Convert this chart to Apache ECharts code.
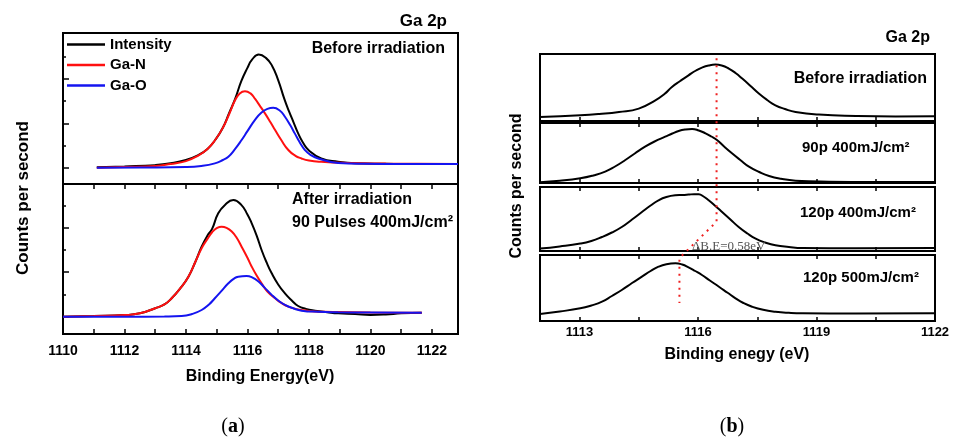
<!DOCTYPE html>
<html>
<head>
<meta charset="utf-8">
<script src="https://cdn.jsdelivr.net/npm/echarts@6/dist/echarts.min.js"></script>
<style>html,body{margin:0;padding:0;background:#fff;}#c{width:953px;height:438px;}</style>
</head>
<body>
<div id="c"></div>
<script>
// ---------- Panel (a): Ga 2p, before irradiation (arbitrary counts) ----------
const A_TOP_INT_X = [1111.1,1112.0,1113.0,1113.5,1114.0,1114.4,1114.7,1114.95,1115.2,1115.4,1115.6,1115.8,1116.0,1116.15,1116.37,1116.6,1116.8,1117.0,1117.2,1117.35,1117.5,1117.65,1117.8,1118.0,1118.4,1118.95,1119.5,1120.5,1121.5,1122.85];
const A_TOP_INT_Y = [0.02,0.06,0.12,0.2,0.35,0.57,0.85,1.25,1.8,2.45,3.1,3.9,4.5,4.87,5.1,4.95,4.6,3.95,3.1,2.55,2.05,1.55,1.15,0.78,0.42,0.27,0.2,0.18,0.17,0.17];
const A_TOP_GAN_X = [1111.1,1112.0,1113.0,1113.5,1114.0,1114.4,1114.7,1114.95,1115.2,1115.4,1115.6,1115.75,1115.92,1116.1,1116.25,1116.4,1116.57,1116.75,1116.9,1117.1,1117.33,1117.55,1117.76,1118.0,1118.4,1119.2,1120.5,1121.5,1122.85];
const A_TOP_GAN_Y = [0,0.04,0.08,0.17,0.3,0.55,0.85,1.25,1.8,2.4,3.05,3.35,3.45,3.35,3.1,2.8,2.45,2.05,1.7,1.25,0.8,0.55,0.42,0.33,0.27,0.22,0.19,0.18,0.17];
const A_TOP_GAO_X = [1111.1,1112.5,1114.0,1114.5,1114.94,1115.2,1115.38,1115.6,1115.81,1116.0,1116.24,1116.45,1116.65,1116.84,1117.05,1117.22,1117.4,1117.54,1117.7,1117.87,1118.05,1118.3,1118.95,1119.8,1121.0,1122.85];
const A_TOP_GAO_Y = [0,0.01,0.03,0.08,0.2,0.35,0.5,0.85,1.25,1.65,2.15,2.48,2.65,2.7,2.58,2.3,1.9,1.55,1.15,0.8,0.58,0.42,0.22,0.18,0.17,0.17];

// ---------- Panel (a): after irradiation, 90 pulses 400 mJ/cm2 ----------
const A_BOT_INT_X = [1110,1111,1112,1112.5,1113,1113.3,1113.55,1113.8,1114.08,1114.3,1114.51,1114.7,1114.85,1115.05,1115.27,1115.54,1115.8,1116.0,1116.14,1116.3,1116.46,1116.62,1116.79,1117.0,1117.22,1117.45,1117.65,1117.9,1118.2,1118.6,1118.95,1119.5,1120.0,1120.5,1121.0,1121.67];
const A_BOT_INT_Y = [0,0.03,0.07,0.15,0.38,0.55,0.85,1.25,1.8,2.45,3.15,3.65,3.95,4.65,5.03,5.25,5.03,4.6,4.2,3.65,3.0,2.45,1.95,1.45,1.05,0.72,0.48,0.35,0.27,0.2,0.15,0.12,0.08,0.1,0.15,0.18];
const A_BOT_GAN_X = [1110,1111,1112,1112.5,1113,1113.3,1113.55,1113.8,1114.08,1114.3,1114.51,1114.7,1114.85,1115.0,1115.16,1115.32,1115.49,1115.65,1115.81,1116.0,1116.14,1116.3,1116.46,1116.65,1116.9,1117.1,1117.33,1117.6,1117.98,1118.5,1118.95,1120.0,1121.67];
const A_BOT_GAN_Y = [0,0.03,0.07,0.15,0.38,0.55,0.85,1.25,1.8,2.45,3.08,3.5,3.8,3.98,4.05,4.0,3.83,3.55,3.15,2.65,2.25,1.85,1.5,1.13,0.83,0.62,0.45,0.34,0.26,0.22,0.21,0.19,0.18];
const A_BOT_GAO_X = [1110,1112,1113.3,1113.86,1114.2,1114.51,1114.75,1114.94,1115.15,1115.38,1115.55,1115.7,1115.97,1116.15,1116.36,1116.55,1116.79,1117.0,1117.22,1117.5,1117.76,1118.3,1118.95,1120.0,1121.67];
const A_BOT_GAO_Y = [0,0,0.01,0.03,0.12,0.3,0.55,0.83,1.15,1.5,1.7,1.8,1.83,1.77,1.58,1.32,0.98,0.73,0.53,0.37,0.27,0.22,0.2,0.19,0.18];

// ---------- Panel (b): four spectra ----------
const B1_X = [1112,1113.02,1113.5,1114.0,1114.5,1114.92,1115.15,1115.34,1115.55,1115.76,1115.95,1116.1,1116.27,1116.44,1116.6,1116.78,1116.95,1117.12,1117.33,1117.54,1117.75,1117.96,1118.2,1118.47,1119.06,1120,1121,1122];
const B1_Y = [0.4,0.57,0.7,0.9,1.24,2.07,2.7,3.4,4.0,4.57,5.05,5.34,5.55,5.64,5.55,5.24,4.8,4.24,3.5,2.74,2.1,1.57,1.2,0.9,0.64,0.5,0.45,0.47];
const B2_X = [1112,1112.5,1113.02,1113.35,1113.65,1113.9,1114.16,1114.4,1114.66,1114.9,1115.17,1115.35,1115.51,1115.68,1115.85,1116.02,1116.19,1116.34,1116.48,1116.66,1116.86,1117.07,1117.29,1117.55,1117.8,1118.1,1118.47,1119.32,1120.5,1122];
const B2_Y = [0.07,0.22,0.47,0.75,1.13,1.65,2.3,2.95,3.63,4.15,4.63,4.95,5.2,5.35,5.4,5.25,4.97,4.65,4.3,3.65,2.97,2.3,1.63,1.1,0.7,0.42,0.23,0.13,0.1,0.1];
const B3_X = [1112,1112.5,1113.02,1113.3,1113.57,1113.82,1114.07,1114.33,1114.58,1114.8,1115.0,1115.2,1115.43,1115.6,1115.76,1115.9,1116.02,1116.14,1116.27,1116.44,1116.61,1116.82,1117.03,1117.25,1117.46,1117.7,1117.96,1118.3,1118.64,1120,1122];
const B3_Y = [0.24,0.45,0.74,1.0,1.4,1.85,2.4,3.15,3.9,4.55,5.07,5.4,5.57,5.6,5.64,5.68,5.67,5.45,5.07,4.5,3.9,3.15,2.4,1.75,1.24,0.85,0.57,0.4,0.3,0.28,0.3];
const B4_X = [1112,1112.5,1113.02,1113.3,1113.57,1113.82,1114.07,1114.33,1114.58,1114.8,1115.0,1115.2,1115.43,1115.6,1115.76,1115.93,1116.1,1116.3,1116.53,1116.75,1116.95,1117.15,1117.37,1117.65,1117.96,1118.3,1118.64,1120,1122];
const B4_Y = [0.7,0.95,1.27,1.55,1.93,2.5,3.1,3.8,4.43,5.0,5.43,5.68,5.77,5.65,5.37,5.0,4.6,4.05,3.43,2.82,2.27,1.8,1.43,1.12,0.93,0.82,0.77,0.75,0.77];

// peak-shift guide (binding energy, overlay height units)
const SHIFT_X = [1116.47,1116.47,1115.53,1115.53];
const SHIFT_Y = [26.37,10.03,6.4,1.9];

// tick labels
const A_TICKS = [1110,1111,1112,1113,1114,1115,1116,1117,1118,1119,1120,1121,1122];
const A_LABELS = [1110,1112,1114,1116,1118,1120,1122];
const B_TICKS = [1113,1114.5,1116,1117.5,1119,1120.5];
const B_LABELS = [1113,1116,1119,1122];
const LEGEND_NAMES = ['Intensity','Ga-N','Ga-O'];

const zip = (xs, ys) => xs.map((x, i) => [x, ys[i]]);
const FF = 'Liberation Sans, Arial, sans-serif';

const chart = echarts.init(document.getElementById('c'), null, {renderer: 'canvas'});

const gridA = [
  {left: 63, top: 33, width: 395, height: 151},
  {left: 63, top: 184, width: 395, height: 150}
];
const gridB = [
  {left: 540, top: 54, width: 395, height: 67},
  {left: 540, top: 123, width: 395, height: 60},
  {left: 540, top: 187, width: 395, height: 64},
  {left: 540, top: 255, width: 395, height: 66}
];
const grids = [...gridA, ...gridB, {left: 540, top: 54, width: 395, height: 268}].map((g, i) => Object.assign({
  show: i < 6, borderColor: '#000', borderWidth: 2, backgroundColor: 'transparent', containLabel: false
}, g));

const hiddenX = (gi, min, max) => ({type: 'value', gridIndex: gi, min, max, axisLine: {show: false, onZero: false}, axisTick: {show: false}, axisLabel: {show: false}, splitLine: {show: false}});
const tickX = (gi, min, max, pos, ticks, labels, len, fs, margin) => ({
  type: 'value', gridIndex: gi, min, max, position: pos,
  axisLine: {show: false, onZero: false},
  axisTick: {show: true, inside: true, length: len, customValues: ticks, lineStyle: {color: '#000', width: 1.5}},
  axisLabel: labels ? {show: true, customValues: labels, formatter: v => String(v), fontSize: fs, fontWeight: 'bold', fontFamily: FF, color: '#000', margin} : {show: false},
  splitLine: {show: false}
});

const xAxes = [
  hiddenX(0, 1110, 1122.85),
  tickX(1, 1110, 1122.85, 'bottom', A_TICKS, A_LABELS, 5, 14, 10),
  tickX(1, 1110, 1122.85, 'top', A_TICKS, null, 5),
  tickX(2, 1112, 1122, 'bottom', B_TICKS, null, 4),
  tickX(3, 1112, 1122, 'bottom', B_TICKS, null, 4),
  tickX(4, 1112, 1122, 'bottom', B_TICKS, null, 4),
  tickX(5, 1112, 1122, 'bottom', B_TICKS, B_LABELS, 4, 13, 5),
  tickX(3, 1112, 1122, 'top', B_TICKS, null, 4),
  tickX(4, 1112, 1122, 'top', B_TICKS, null, 4),
  tickX(5, 1112, 1122, 'top', B_TICKS, null, 4),
  hiddenX(6, 1112, 1122)
];

const tickY = (gi, min, max, ticks, len) => ({
  type: 'value', gridIndex: gi, min, max, position: 'left',
  axisLine: {show: false, onZero: false},
  axisTick: ticks ? {show: true, inside: true, length: len, customValues: ticks, lineStyle: {color: '#000', width: 1.5}} : {show: false},
  axisLabel: {show: false}, splitLine: {show: false}
});
const yAxes = [
  tickY(0, -0.73, 6.07, [0,2,4], 6),
  tickY(0, -0.73, 6.07, [1,3,5], 3),
  tickY(1, -0.78, 5.97, [0,2,4], 6),
  tickY(1, -0.78, 5.97, [1,3,5], 3),
  tickY(2, 0, 6.7),
  tickY(3, 0, 6.0),
  tickY(4, 0, 6.4),
  tickY(5, 0, 6.6),
  tickY(6, 0, 26.8)
];

const line = (name, data, xi, yi, color, z) => ({
  type: 'line', name, data, xAxisIndex: xi, yAxisIndex: yi,
  symbol: 'none', smooth: 0.5, z: z || 2,
  lineStyle: {color, width: 2}, itemStyle: {color}
});
const BLACK = '#000000', RED = '#ff1010', BLUE = '#1414f0';

const series = [
  line('Intensity', zip(A_TOP_INT_X, A_TOP_INT_Y), 0, 0, BLACK, 2),
  line('Ga-N', zip(A_TOP_GAN_X, A_TOP_GAN_Y), 0, 0, RED, 3),
  line('Ga-O', zip(A_TOP_GAO_X, A_TOP_GAO_Y), 0, 0, BLUE, 4),
  line('Intensity', zip(A_BOT_INT_X, A_BOT_INT_Y), 1, 2, BLACK, 2),
  line('Ga-N', zip(A_BOT_GAN_X, A_BOT_GAN_Y), 1, 2, RED, 3),
  line('Ga-O', zip(A_BOT_GAO_X, A_BOT_GAO_Y), 1, 2, BLUE, 4),
  line('Before irradiation', zip(B1_X, B1_Y), 3, 4, BLACK),
  line('90p 400mJ/cm²', zip(B2_X, B2_Y), 4, 5, BLACK),
  line('120p 400mJ/cm²', zip(B3_X, B3_Y), 5, 6, BLACK),
  line('120p 500mJ/cm²', zip(B4_X, B4_Y), 6, 7, BLACK),
  {type: 'line', name: 'shift', data: zip(SHIFT_X, SHIFT_Y), xAxisIndex: 10, yAxisIndex: 8, symbol: 'none', z: 5,
   lineStyle: {color: '#ee2020', width: 2, type: [2, 5], cap: 'butt'}}
];

const txt = (text, x, y, opts) => ({
  type: 'text', x, y, z: 100, rotation: (opts && opts.rot) || 0,
  style: Object.assign({text, fill: '#000', fontFamily: FF, fontWeight: 'bold', fontSize: 15, align: 'left', verticalAlign: 'middle'}, opts && opts.style)
});

const graphic = [
  txt('Ga 2p', 447, 21, {style: {align: 'right', fontSize: 17}}),
  txt('Before irradiation', 445, 49, {style: {align: 'right', fontSize: 16}}),
  txt('After irradiation', 292, 200, {style: {fontSize: 16}}),
  txt('90 Pulses 400mJ/cm²', 292, 223, {style: {fontSize: 16}}),
  txt('Counts per second', 23, 198, {rot: Math.PI / 2, style: {align: 'center', fontSize: 17}}),
  txt('Binding Energy(eV)', 260, 377, {style: {align: 'center', fontSize: 16}}),
  txt('Ga 2p', 930, 38, {style: {align: 'right', fontSize: 16}}),
  txt('Before irradiation', 927, 79, {style: {align: 'right', fontSize: 16}}),
  txt('90p 400mJ/cm²', 802, 148, {style: {fontSize: 15}}),
  txt('120p 400mJ/cm²', 800, 213, {style: {fontSize: 15}}),
  txt('120p 500mJ/cm²', 803, 278, {style: {fontSize: 15}}),
  txt('ΔB.E=0.58eV', 692, 247, {style: {fontFamily: 'Liberation Serif, Times New Roman, serif', fontWeight: 'normal', fontSize: 13, fill: '#555'}}),
  txt('Counts per second', 517, 186, {rot: Math.PI / 2, style: {align: 'center', fontSize: 16}}),
  txt('Binding enegy (eV)', 737, 355, {style: {align: 'center', fontSize: 16}}),
  {type: 'text', x: 233, y: 427, z: 100, style: {text: '({b|a})', rich: {b: {fontWeight: 'bold', fontSize: 20, fontFamily: 'Liberation Serif, serif'}}, fontFamily: 'Liberation Serif, serif', fontSize: 20, fill: '#000', align: 'center', verticalAlign: 'middle'}},
  {type: 'text', x: 732, y: 427, z: 100, style: {text: '({b|b})', rich: {b: {fontWeight: 'bold', fontSize: 20, fontFamily: 'Liberation Serif, serif'}}, fontFamily: 'Liberation Serif, serif', fontSize: 20, fill: '#000', align: 'center', verticalAlign: 'middle'}}
];

chart.setOption({
  animation: false,
  backgroundColor: '#fff',
  grid: grids,
  xAxis: xAxes,
  yAxis: yAxes,
  legend: {
    data: LEGEND_NAMES, orient: 'vertical', left: 67, top: 36,
    icon: 'rect', itemWidth: 38, itemHeight: 2.5, itemGap: 3.5, padding: 0, itemStyle: {borderWidth: 0},
    textStyle: {fontSize: 15, fontWeight: 'bold', fontFamily: FF, color: '#000', lineHeight: 17},
    selectedMode: false
  },
  series,
  graphic
});
</script>
</body>
</html>
